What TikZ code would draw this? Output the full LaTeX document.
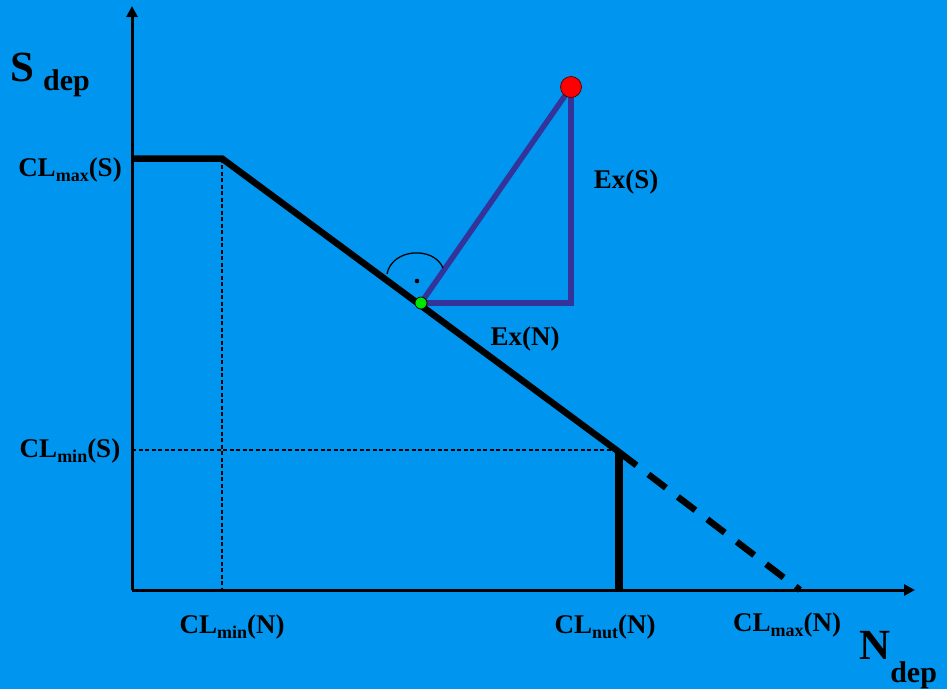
\documentclass[tikz,border=0pt]{standalone}
\usepackage{fontspec}
\setmainfont{Liberation Serif}
\usetikzlibrary{arrows.meta}
\definecolor{bg}{RGB}{0,150,240}
\definecolor{vio}{RGB}{51,51,153}
\newcommand{\lbl}[2]{{\fontsize{27}{27}\selectfont\bfseries CL\raisebox{-5pt}{\fontsize{18}{18}\selectfont #1}#2}}
\begin{document}
\begin{tikzpicture}[x=1pt,y=-1pt,
  axis/.style={line width=3pt,-{Triangle[length=11pt,width=11pt]}},
  curve/.style={line width=6.5pt},
  guide/.style={line width=1.2pt,dash pattern=on 4pt off 2.5pt},
  vline/.style={line width=5.5pt,draw=vio},
  txt/.style={font=\fontsize{27}{27}\selectfont\bfseries,inner sep=0pt}]
\fill[bg] (0,0) rectangle (947,689);
\useasboundingbox (0,0) rectangle (947,689);
\coordinate (O) at (132,590);
\coordinate (ytop) at (132,6);
\coordinate (xend) at (915,590);
\coordinate (A) at (132,158.5);
\coordinate (B) at (222,158.5);
\coordinate (C) at (619,452);
\coordinate (D) at (800,590);
\coordinate (Cb) at (619,590);
\coordinate (Bb) at (222,590);
\coordinate (Cl) at (132,450);
\coordinate (Cr) at (619,450);
\coordinate (G) at (421,303);
\coordinate (R) at (571,87);
\coordinate (K) at (571,303);
% guides
\draw[guide] (B) -- (Bb);
\draw[guide] (Cl) -- (Cr);
% axes
\draw[axis] (O) -- (ytop);
\draw[axis] (O) -- (xend);
% curve
\draw[curve,line join=miter] (A) -- (B) -- (C);
\draw[curve,dash pattern=on 22pt off 15pt] (C) -- (D);
\draw[line width=8pt] (C) -- (Cb);
% triangle
\draw[vline] (G) -- (R);
\draw[vline] (G) -- (K) -- (R);
% right angle
\draw[line width=1.3pt] (387,274) .. controls (392,248) and (434,246) .. (443,268);
\fill (417,281) circle (2.3pt);
\node[circle,fill=green!90!black,draw=black,line width=0.7pt,minimum size=12pt,inner sep=0pt] (g) at (G) {};
\node[circle,fill=red,draw=black!70!red,line width=0.7pt,minimum size=21pt,inner sep=0pt] (r) at (R) {};
% labels
\node[inner sep=0pt] (lms) at (70,170) {\lbl{max}{(S)}};
\node[inner sep=0pt] (lmins) at (70,451) {\lbl{min}{(S)}};
\node[inner sep=0pt] (lminn) at (232,627) {\lbl{min}{(N)}};
\node[inner sep=0pt] (lnut) at (605,627) {\lbl{nut}{(N)}};
\node[inner sep=0pt] (lmaxn) at (787,625) {\lbl{max}{(N)}};
\node[txt] (exs) at (626,182) {Ex(S)};
\node[txt] (exn) at (525,339) {Ex(N)};
\node[inner sep=0pt,anchor=base west] (sd) at (10,81) {\fontsize{43}{43}\selectfont\bfseries S\hspace{9pt}\raisebox{-9pt}{\fontsize{30}{30}\selectfont dep}};
\node[inner sep=0pt,anchor=base west] (nd) at (859,659) {\fontsize{43}{43}\selectfont\bfseries N\raisebox{-23pt}{\fontsize{30}{30}\selectfont dep}};
\end{tikzpicture}
\end{document}
